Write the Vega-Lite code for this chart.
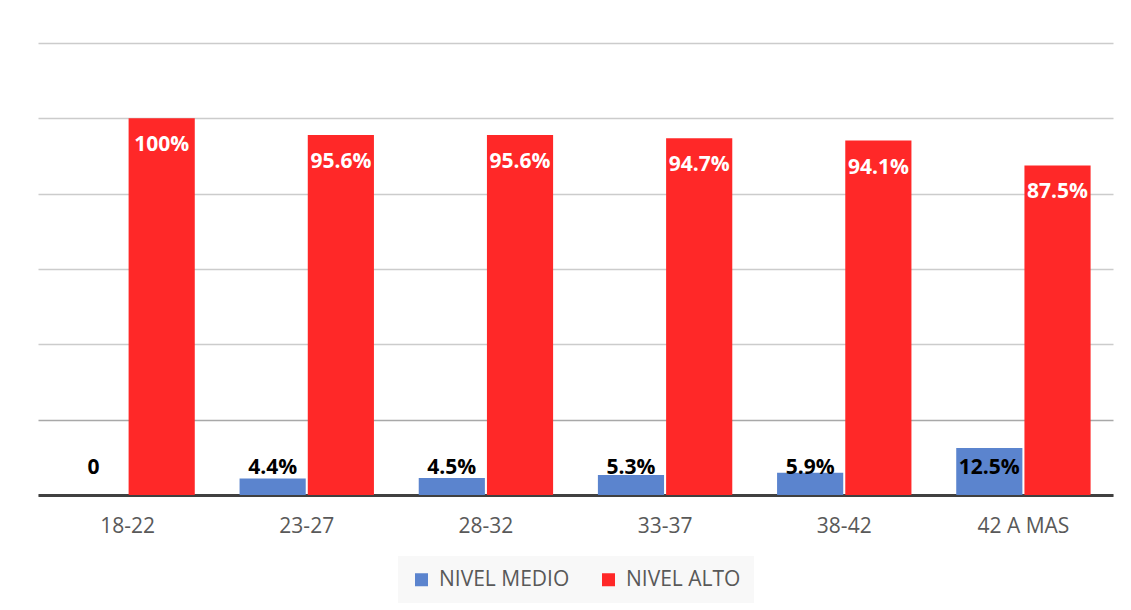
{
  "$schema": "https://vega.github.io/schema/vega-lite/v6.json",
  "width": 1075,
  "height": 452,
  "autosize": {"type": "none"},
  "padding": {"left": 38, "top": 43, "right": 18, "bottom": 115},
  "background": "white",
  "config": {"view": {"stroke": null}, "font": "Open Sans", "legend": {"layout": {"bottom": {"anchor": "middle"}}}},
  "data": {
    "values": [
      {"grupo": "18-22", "nivel": "NIVEL MEDIO", "valor": 0, "etiqueta": "0"},
      {"grupo": "18-22", "nivel": "NIVEL ALTO", "valor": 100, "etiqueta": "100%"},
      {"grupo": "23-27", "nivel": "NIVEL MEDIO", "valor": 4.4, "etiqueta": "4.4%"},
      {"grupo": "23-27", "nivel": "NIVEL ALTO", "valor": 95.6, "etiqueta": "95.6%"},
      {"grupo": "28-32", "nivel": "NIVEL MEDIO", "valor": 4.5, "etiqueta": "4.5%"},
      {"grupo": "28-32", "nivel": "NIVEL ALTO", "valor": 95.6, "etiqueta": "95.6%"},
      {"grupo": "33-37", "nivel": "NIVEL MEDIO", "valor": 5.3, "etiqueta": "5.3%"},
      {"grupo": "33-37", "nivel": "NIVEL ALTO", "valor": 94.7, "etiqueta": "94.7%"},
      {"grupo": "38-42", "nivel": "NIVEL MEDIO", "valor": 5.9, "etiqueta": "5.9%"},
      {"grupo": "38-42", "nivel": "NIVEL ALTO", "valor": 94.1, "etiqueta": "94.1%"},
      {"grupo": "42 A MAS", "nivel": "NIVEL MEDIO", "valor": 12.5, "etiqueta": "12.5%"},
      {"grupo": "42 A MAS", "nivel": "NIVEL ALTO", "valor": 87.5, "etiqueta": "87.5%"}
    ]
  },
  "encoding": {
    "x": {
      "field": "grupo",
      "type": "nominal",
      "sort": ["18-22", "23-27", "28-32", "33-37", "38-42", "42 A MAS"],
      "scale": {"paddingInner": 0.25, "paddingOuter": 0.125},
      "axis": {
        "title": null,
        "labelAngle": 0,
        "labelFontSize": 21,
        "labelColor": "#595959",
        "labelPadding": 20,
        "ticks": false,
        "domainColor": "#404040",
        "domainWidth": 3
      }
    },
    "xOffset": {
      "field": "nivel",
      "type": "nominal",
      "sort": ["NIVEL MEDIO", "NIVEL ALTO"],
      "scale": {"paddingInner": 0.03, "paddingOuter": 0}
    }
  },
  "layer": [
    {
      "mark": {"type": "bar"},
      "encoding": {
        "y": {
          "field": "valor",
          "type": "quantitative",
          "scale": {"domain": [0, 120]},
          "axis": {
            "title": null,
            "labels": false,
            "ticks": false,
            "domain": false,
            "values": [0, 20, 40, 60, 80, 100, 120],
            "gridColor": {"condition": {"test": "datum.value == 20", "value": "#A8A8A8"}, "value": "#CCCCCC"},
            "gridWidth": 1.5
          }
        },
        "color": {
          "field": "nivel",
          "type": "nominal",
          "sort": ["NIVEL MEDIO", "NIVEL ALTO"],
          "scale": {"domain": ["NIVEL MEDIO", "NIVEL ALTO"], "range": ["#5B84CE", "#FF2828"]},
          "legend": {
            "title": null,
            "orient": "bottom",
            "direction": "horizontal",
            "labelFontSize": 21,
            "labelColor": "#595959",
            "symbolType": "square",
            "symbolSize": 169,
            "symbolStrokeWidth": 0,
            "fillColor": "#F8F8F8",
            "padding": 13,
            "columnPadding": 28,
            "labelOffset": 7,
            "offset": 20
          }
        }
      }
    },
    {
      "transform": [{"filter": "datum.nivel == 'NIVEL ALTO'"}],
      "mark": {"type": "text", "baseline": "middle", "dy": 27, "fontWeight": "bold", "fontSize": 21, "color": "white"},
      "encoding": {
        "y": {"field": "valor", "type": "quantitative"},
        "text": {"field": "etiqueta"}
      }
    },
    {
      "transform": [{"filter": "datum.nivel == 'NIVEL MEDIO'"}],
      "mark": {"type": "text", "baseline": "middle", "fontWeight": "bold", "fontSize": 21, "color": "black"},
      "encoding": {
        "y": {"datum": 7.3, "type": "quantitative"},
        "text": {"field": "etiqueta"}
      }
    }
  ]
}
